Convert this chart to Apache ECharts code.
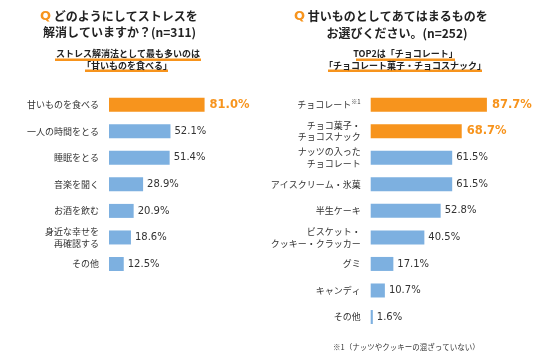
<!DOCTYPE html>
<html><head><meta charset="utf-8">
<script src="https://cdn.jsdelivr.net/npm/echarts@6/dist/echarts.min.js"></script>
<style>html,body{margin:0;padding:0;background:#fff}#c{width:536px;height:364px}</style>
</head><body><div id="c"></div>
<script>
const leftCategories = ['甘いものを食べる','一人の時間をとる','睡眠をとる','音楽を聞く','お酒を飲む','身近な幸せを\n再確認する','その他'];
const leftValues = [81.0, 52.1, 51.4, 28.9, 20.9, 18.6, 12.5];
const leftHighlight = 1; // top N highlighted
const rightCategories = ['チョコレート※1','チョコ菓子・\nチョコスナック','ナッツの入った\nチョコレート','アイスクリーム・氷菓','半生ケーキ','ビスケット・\nクッキー・クラッカー','グミ','キャンディ','その他'];
const rightValues = [87.7, 68.7, 61.5, 61.5, 52.8, 40.5, 17.1, 10.7, 1.6];
const rightHighlight = 2;

const ORANGE = '#F7941D', BLUE = '#7DB0E0', TXT = '#333333';
const JP = '"Noto Sans CJK JP", "Noto Sans", sans-serif';
const NUM = '"DejaVu Sans", Verdana, sans-serif';

function makeData(vals, hi) {
  return vals.map((v, i) => {
    const h = i < hi;
    return {
      value: v,
      itemStyle: { color: h ? ORANGE : BLUE },
      label: h ? { color: ORANGE, fontSize: 11.5, fontWeight: 'bold', distance: 5 } : { color: TXT, fontSize: 10, distance: 4 }
    };
  });
}

const catLabel = {
  color: TXT, fontSize: 9, fontFamily: JP, lineHeight: 11.5, margin: 10,
  formatter: v => v.includes('※1') ? v.replace('※1', '') + '{s|※1}' : v,
  rich: { s: { fontSize: 6, color: TXT, fontFamily: JP, verticalAlign: 'top', padding: [0,0,4,0] } }
};

const chart = echarts.init(document.getElementById('c'));
chart.setOption({
  animation: false,
  grid: [
    { left: 109, top: 91.4, width: 118, height: 185.9 },
    { left: 370.7, top: 91.4, width: 132.5, height: 238.9 }
  ],
  xAxis: [
    { gridIndex: 0, type: 'value', min: 0, max: 100, show: false },
    { gridIndex: 1, type: 'value', min: 0, max: 100, show: false }
  ],
  yAxis: [
    { gridIndex: 0, type: 'category', inverse: true, data: leftCategories,
      axisLine: { show: false }, axisTick: { show: false }, axisLabel: catLabel },
    { gridIndex: 1, type: 'category', inverse: true, data: rightCategories,
      axisLine: { show: false }, axisTick: { show: false }, axisLabel: catLabel }
  ],
  series: [
    { type: 'bar', xAxisIndex: 0, yAxisIndex: 0, barWidth: 14, data: makeData(leftValues, leftHighlight),
      label: { show: true, position: 'right', fontFamily: NUM, formatter: p => p.value.toFixed(1) + '%' } },
    { type: 'bar', xAxisIndex: 1, yAxisIndex: 1, barWidth: 14, data: makeData(rightValues, rightHighlight),
      label: { show: true, position: 'right', fontFamily: NUM, formatter: p => p.value.toFixed(1) + '%' } }
  ],
  graphic: [
    // underline highlights
    { type: 'rect', shape: { x: 55, y: 58.5, width: 146, height: 2.5 }, style: { fill: ORANGE }, z: 1 },
    { type: 'rect', shape: { x: 85, y: 69.5, width: 83, height: 2.5 }, style: { fill: ORANGE }, z: 1 },
    { type: 'rect', shape: { x: 356, y: 58.5, width: 99, height: 2.5 }, style: { fill: ORANGE }, z: 1 },
    { type: 'rect', shape: { x: 328, y: 69.5, width: 154, height: 2.5 }, style: { fill: ORANGE }, z: 1 },
    // left title
    { type: 'text', left: 40, top: 10, z: 5, style: { text: '{q|Q} どのようにしてストレスを', fontFamily: JP, fontSize: 12, fontWeight: 'bold', fill: '#222',
      rich: { q: { fontFamily: NUM, fontSize: 13, fontWeight: 'bold', fill: ORANGE, color: ORANGE } } } },
    { type: 'text', left: 43, top: 26, z: 5, style: { text: '解消していますか？(n=311)', fontFamily: JP, fontSize: 12, fontWeight: 'bold', fill: '#222' } },
    { type: 'text', x: 128, y: 54, z: 5, style: { text: 'ストレス解消法として最も多いのは', fontFamily: JP, fontSize: 9, fontWeight: 'bold', fill: '#222', align: 'center', verticalAlign: 'middle' } },
    { type: 'text', x: 127, y: 66, z: 5, style: { text: '「甘いものを食べる」', fontFamily: JP, fontSize: 9, fontWeight: 'bold', fill: '#222', align: 'center', verticalAlign: 'middle' } },
    // right title
    { type: 'text', left: 294, top: 10, z: 5, style: { text: '{q|Q} 甘いものとしてあてはまるものを', fontFamily: JP, fontSize: 12, fontWeight: 'bold', fill: '#222',
      rich: { q: { fontFamily: NUM, fontSize: 13, fontWeight: 'bold', fill: ORANGE, color: ORANGE } } } },
    { type: 'text', x: 397, y: 33, z: 5, style: { text: 'お選びください。(n=252)', fontFamily: JP, fontSize: 12, fontWeight: 'bold', fill: '#222', align: 'center', verticalAlign: 'middle' } },
    { type: 'text', x: 405.5, y: 54, z: 5, style: { text: 'TOP2は「チョコレート」', fontFamily: JP, fontSize: 9, fontWeight: 'bold', fill: '#222', align: 'center', verticalAlign: 'middle' } },
    { type: 'text', x: 405, y: 66, z: 5, style: { text: '「チョコレート菓子・チョコスナック」', fontFamily: JP, fontSize: 9, fontWeight: 'bold', fill: '#222', align: 'center', verticalAlign: 'middle' } },
    // footnote
    { type: 'text', left: 333, top: 343, z: 5, style: { text: '※1（ナッツやクッキーの混ざっていない）', fontFamily: JP, fontSize: 7.5, fill: TXT } }
  ]
});
</script></body></html>
